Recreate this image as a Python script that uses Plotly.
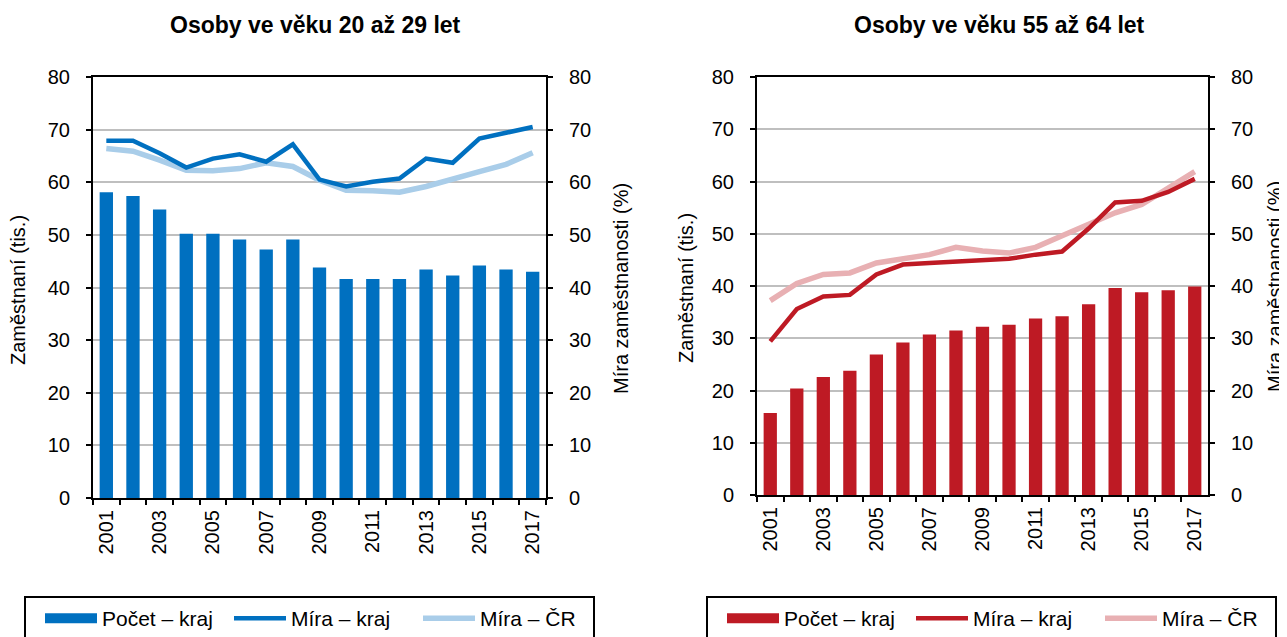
import plotly.graph_objects as go
from plotly.subplots import make_subplots

years = [str(y) for y in range(2001, 2018)]
tick_text = [y if int(y) % 2 == 1 else "" for y in years]

# Osoby ve veku 20 az 29 let
young_count = [58.1, 57.4, 54.8, 50.2, 50.2, 49.1, 47.2, 49.1, 43.8, 41.6,
               41.6, 41.6, 43.4, 42.3, 44.2, 43.4, 43.0]
young_rate_region = [67.9, 67.9, 65.5, 62.8, 64.5, 65.3, 63.9, 67.2, 60.5, 59.2,
                     60.1, 60.7, 64.5, 63.7, 68.3, 69.4, 70.5]
young_rate_cr = [66.4, 65.9, 64.2, 62.3, 62.2, 62.6, 63.7, 63.0, 60.4, 58.5,
                 58.4, 58.1, 59.2, 60.5, 62.0, 63.4, 65.6]

# Osoby ve veku 55 az 64 let
old_count = [15.7, 20.4, 22.6, 23.8, 26.9, 29.2, 30.7, 31.5, 32.2, 32.6,
             33.8, 34.2, 36.5, 39.6, 38.8, 39.2, 39.9]
old_rate_region = [29.4, 35.6, 38.0, 38.3, 42.2, 44.1, 44.4, 44.7, 45.0, 45.2,
                   46.0, 46.6, 51.0, 56.0, 56.3, 58.0, 60.5]
old_rate_cr = [37.2, 40.5, 42.2, 42.5, 44.4, 45.2, 46.0, 47.4, 46.7, 46.3,
               47.4, 49.6, 51.8, 54.0, 55.6, 58.7, 61.9]

W, H = 1287, 637
OFF = 8  # default body margin of the page shifts the figure by 8px
FONT = "Liberation Sans, Arial, sans-serif"


def px_x(x):
    return (x - OFF) / W


def px_y(y):
    return 1 - (y - OFF) / H


fig = make_subplots(rows=1, cols=2,
                    specs=[[{"secondary_y": True}, {"secondary_y": True}]])

panels = [
    (1, "legend", young_count, young_rate_region, young_rate_cr,
     "#0070C0", "#0070C0", "#A9CDE9"),
    (2, "legend2", old_count, old_rate_region, old_rate_cr,
     "#BE1A24", "#BE1A24", "#E8B0B3"),
]
for col, leg, cnt, rate_r, rate_cr, c_bar, c_line, c_light in panels:
    fig.add_trace(go.Bar(x=years, y=cnt, name="Počet – kraj",
                         marker=dict(color=c_bar, line=dict(width=0)),
                         showlegend=False), row=1, col=col, secondary_y=False)
    # legend-only entry so the bar swatch is a wide rectangle like the original
    fig.add_trace(go.Scatter(x=[None], y=[None], mode="lines", name="Počet – kraj",
                             line=dict(color=c_bar, width=10),
                             legend=leg, legendrank=1),
                  row=1, col=col, secondary_y=False)
    fig.add_trace(go.Scatter(x=years, y=rate_cr, mode="lines", name="Míra – ČR",
                             line=dict(color=c_light, width=5.5),
                             legend=leg, legendrank=3),
                  row=1, col=col, secondary_y=True)
    fig.add_trace(go.Scatter(x=years, y=rate_r, mode="lines", name="Míra – kraj",
                             line=dict(color=c_line, width=4.5),
                             legend=leg, legendrank=2),
                  row=1, col=col, secondary_y=True)

axis_common = dict(showline=True, linecolor="black", linewidth=2,
                   ticks="outside", ticklen=5, tickwidth=2, tickcolor="black",
                   automargin=False,
                   tickfont=dict(size=20, color="black", family=FONT))

xdom = [(px_x(93), px_x(546)), (px_x(757), px_x(1208))]
ydom = [(px_y(498), px_y(77)), (px_y(495), px_y(77))]

for i, (xa, yp, ys) in enumerate([("xaxis", "yaxis", "yaxis2"),
                                  ("xaxis2", "yaxis3", "yaxis4")]):
    fig.update_layout({
        xa: dict(axis_common, domain=xdom[i], type="category",
                 tickvals=years, ticktext=tick_text, tickangle=-90,
                 tickson="boundaries", mirror=True, showgrid=False,
                 ticklabelstandoff=2),
        yp: dict(axis_common, domain=ydom[i], range=[0, 80], dtick=10,
                 showgrid=True, gridcolor="#BFBFBF", gridwidth=2,
                 zeroline=False, ticklabelstandoff=12),
        ys: dict(axis_common, domain=ydom[i], range=[0, 80], dtick=10,
                 showgrid=False, zeroline=False, ticklabelstandoff=12),
    })

title_font = dict(size=23, color="black", family=FONT)
label_font = dict(size=20, color="black", family=FONT)
annotations = [
    dict(text="<b>Osoby ve věku 20 až 29 let</b>", x=px_x(315), y=px_y(25),
         font=title_font),
    dict(text="<b>Osoby ve věku 55 až 64 let</b>", x=px_x(999), y=px_y(25),
         font=title_font),
    dict(text="Zaměstnaní (tis.)", x=px_x(18), y=px_y(290), textangle=-90,
         font=label_font),
    dict(text="Míra zaměstnanosti (%)", x=px_x(621), y=px_y(289), textangle=-90,
         font=label_font),
    dict(text="Zaměstnaní (tis.)", x=px_x(686), y=px_y(288), textangle=-90,
         font=label_font),
    dict(text="Míra zaměstnanosti (%)", x=px_x(1275), y=px_y(287), textangle=-90,
         font=label_font),
]
for a in annotations:
    a.update(xref="paper", yref="paper", showarrow=False,
             xanchor="center", yanchor="middle")

legend_common = dict(orientation="h", yanchor="top", y=px_y(596),
                     xanchor="left", bordercolor="black", borderwidth=2,
                     bgcolor="white", traceorder="normal",
                     font=dict(size=21, color="black", family=FONT),
                     itemwidth=52, entrywidth=108, indentation=14)

fig.update_layout(
    width=W, height=H,
    margin=dict(l=0, r=0, t=0, b=0),
    paper_bgcolor="white", plot_bgcolor="white",
    bargap=0.5,
    showlegend=True,
    annotations=annotations,
    legend=dict(legend_common, x=px_x(24)),
    legend2=dict(legend_common, x=px_x(706)),
    font=dict(family=FONT, color="black"),
)

fig.write_html("out.html", config={"displayModeBar": False})
